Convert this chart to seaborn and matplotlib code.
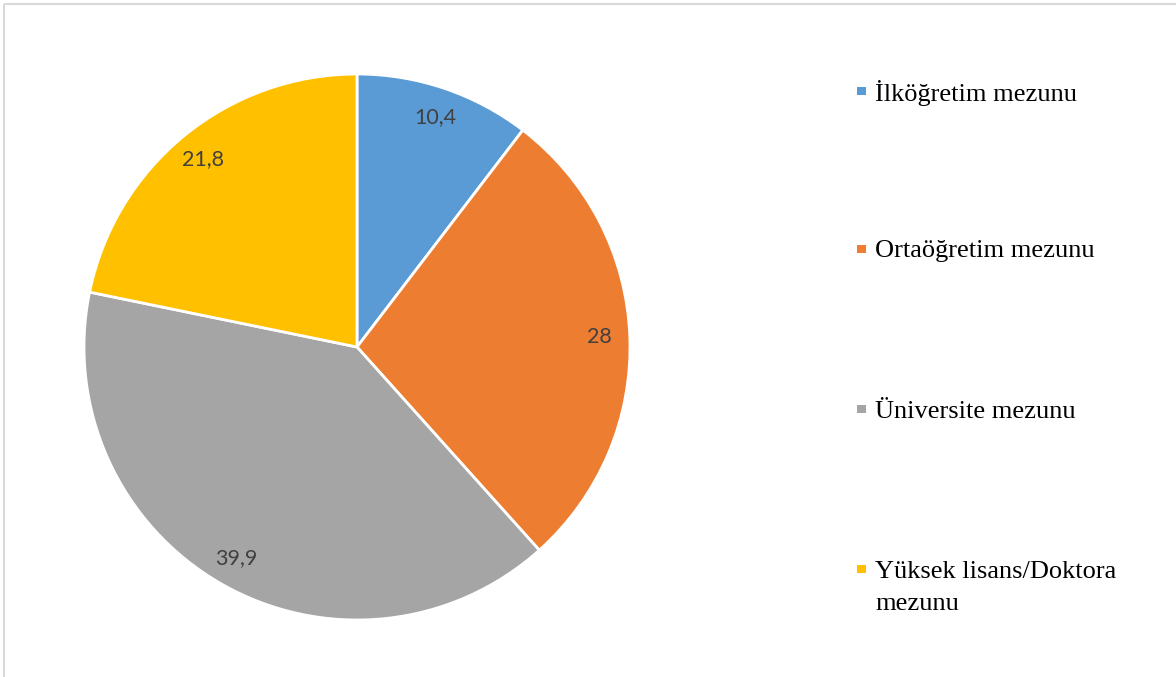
import numpy as np
import matplotlib
matplotlib.use("Agg")
import matplotlib.pyplot as plt
import seaborn as sns
from matplotlib.patches import Rectangle

# Education level shares (%)
categories = [
    "İlköğretim mezunu",
    "Ortaöğretim mezunu",
    "Üniversite mezunu",
    "Yüksek lisans/Doktora\nmezunu",
]
values = [10.4, 28, 39.9, 21.8]
value_labels = ["10,4", "28", "39,9", "21,8"]
colors = ["#5B9BD5", "#ED7D31", "#A5A5A5", "#FFC000"]

sns.set_theme(style="white")
plt.rcParams["font.family"] = ["Lato", "DejaVu Sans"]

W, H = 1176, 677
fig = plt.figure(figsize=(W / 100, H / 100), dpi=100)
fig.patch.set_facecolor("white")

# pie axes: centre (357, 347) px, radius 273 px
cx, cy, r = 357, 347, 273
ax = fig.add_axes([(cx - r) / W, (H - cy - r) / H, 2 * r / W, 2 * r / H])
wedges, _ = ax.pie(
    values,
    colors=colors,
    startangle=90,
    counterclock=False,
    radius=1.0,
    wedgeprops=dict(edgecolor="white", linewidth=2.0),
)
ax.set_xlim(-1, 1)
ax.set_ylim(-1, 1)
ax.set_aspect("equal")
ax.axis("off")

for w, lab in zip(wedges, value_labels):
    mid = np.deg2rad((w.theta1 + w.theta2) / 2)
    d = 0.89
    ax.text(d * np.cos(mid), d * np.sin(mid), lab, ha="center", va="center",
            fontsize=15.5, color="#404040", family=["Lato", "DejaVu Sans"])

# overlay in pixel coordinates for the legend and frame
ov = fig.add_axes([0, 0, 1, 1])
ov.set_xlim(0, W)
ov.set_ylim(H, 0)
ov.axis("off")

ov.plot([3.5, 3.5], [3.5, H], color="#d9d9d9", lw=1.5, solid_capstyle="butt")
ov.plot([3.5, W], [3.5, 3.5], color="#d9d9d9", lw=1.5, solid_capstyle="butt")

legend_y = [91, 249, 409, 569]
line_gap = 32
for y, lab, c in zip(legend_y, categories, colors):
    ov.add_patch(Rectangle((857, y - 4.5), 8.5, 8.5, facecolor=c, edgecolor="none"))
    for k, line in enumerate(lab.split("\n")):
        ov.text(875, y + k * line_gap, line, ha="left", va="center_baseline",
                fontsize=19, color="black",
                family=["Liberation Serif", "DejaVu Serif"])

fig.savefig("out.png", dpi=100, facecolor="white")
